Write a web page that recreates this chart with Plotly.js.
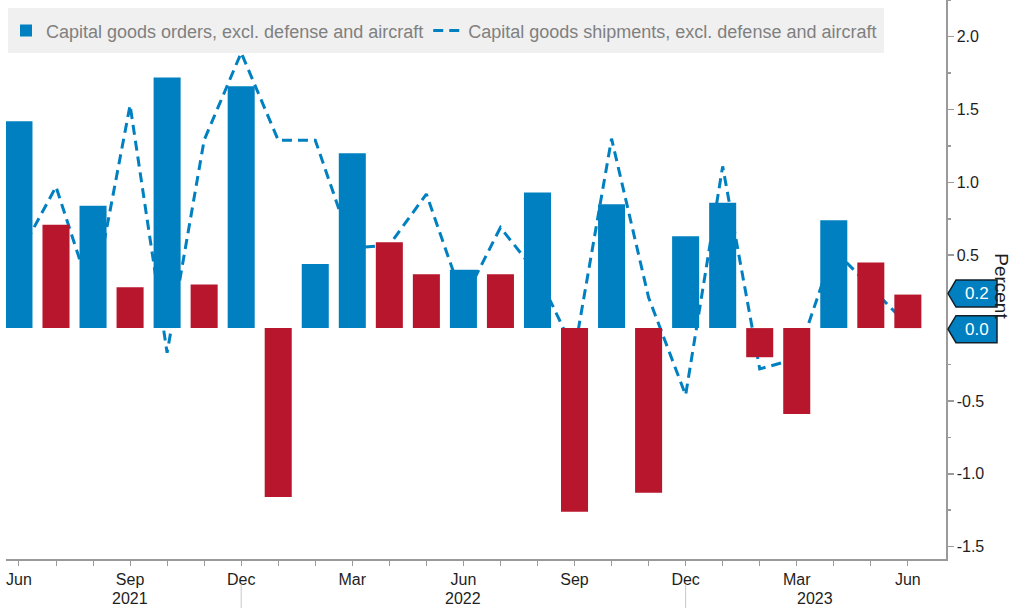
<!DOCTYPE html>
<html>
<head>
<meta charset="utf-8">
<script src="https://cdn.plot.ly/plotly-3.0.1.min.js"></script>
<style>
  html, body { margin: 0; padding: 0; background: #ffffff; }
  #chart { width: 1014px; height: 608px; }
</style>
</head>
<body>
<div id="chart"></div>
<script>
// ---- Data ----
const months = ['Jun','Jul','Aug','Sep','Oct','Nov','Dec','Jan','Feb','Mar','Apr','May',
                'Jun','Jul','Aug','Sep','Oct','Nov','Dec','Jan','Feb','Mar','Apr','May','Jun'];
const monthTickLabels = ['Jun','','','Sep','','','Dec','','','Mar','','',
                         'Jun','','','Sep','','','Dec','','','Mar','','','Jun'];
const ordersName = 'Capital goods orders, excl. defense and aircraft';
const shipmentsName = 'Capital goods shipments, excl. defense and aircraft';
const orders = [1.42, 0.71, 0.84, 0.28, 1.72, 0.30, 1.66, -1.16, 0.44, 1.20, 0.59, 0.37,
                0.40, 0.37, 0.93, -1.26, 0.85, -1.13, 0.63, 0.86, -0.20, -0.59, 0.74, 0.45, 0.23];
const shipments = [0.50, 0.97, 0.19, 1.53, -0.17, 1.29, 1.89, 1.29, 1.29, 0.55, 0.57, 0.92,
                   0.19, 0.69, 0.37, -0.16, 1.30, 0.21, -0.46, 1.11, -0.28, -0.21, 0.54, 0.28, 0.02];
const yearLabels = ['2021', '2022', '2023'];
const yearLabelPos = [3, 12, 21.5];
const yTickVals = [-1.5, -1.0, -0.5, 0.0, 0.5, 1.0, 1.5, 2.0];
// the 0.0 tick label sits under the last-value tag in the reference
const yTickLabels = ['-1.5', '-1.0', '-0.5', '', '0.5', '1.0', '1.5', '2.0'];

// ---- Styles ----
const BLUE = '#0080c0';
const RED = '#b8162d';
const FONT = 'Liberation Sans, Arial, sans-serif';
const AXIS_GREY = '#9a9a9a';
const TEXT_DARK = '#1e1e1e';

const xIdx = months.map((m, i) => i);
// Bar colour: blue when orders rose vs. the prior month, red when they fell
const barColors = orders.map((v, i) => (i === 0 || v >= orders[i - 1]) ? BLUE : RED);
const yRange = [-1.585, 2.252];

const traces = [
  {
    type: 'scatter', mode: 'lines', name: shipmentsName,
    x: xIdx, y: shipments, xaxis: 'x', yaxis: 'y',
    line: { color: BLUE, width: 3, dash: '10px,6px' },
    legendrank: 2, hoverinfo: 'skip'
  },
  {
    type: 'bar', name: ordersName,
    x: xIdx, y: orders, xaxis: 'x', yaxis: 'y2',
    width: 0.73,
    marker: { color: barColors, line: { width: 0 } },
    legendrank: 1, hoverinfo: 'skip'
  }
];

const shapes = [];
// Legend background panel
shapes.push({
  type: 'rect', xref: 'paper', yref: 'paper', layer: 'above',
  x0: 0.0021, x1: 0.934, y0: 0.9052, y1: 0.9857,
  fillcolor: '#f0f0f0', line: { width: 0 }
});
// Year separators (at December ticks)
months.forEach((m, i) => {
  if (m === 'Dec') {
    shapes.push({
      type: 'line', xref: 'x', yref: 'paper', x0: i, x1: i, y0: -0.0465, y1: -0.09,
      line: { color: '#c8c8c8', width: 1 }
    });
  }
});

// Last-value tags on the right axis
const tagInfo = [
  { value: orders[orders.length - 1], shift: 1 },
  { value: shipments[shipments.length - 1], shift: -4 }
];
const annotations = [];
tagInfo.forEach(t => {
  const s = t.shift;
  shapes.push({
    type: 'path', xref: 'paper', yref: 'y', xsizemode: 'pixel', ysizemode: 'pixel',
    xanchor: 1, yanchor: t.value, layer: 'above',
    path: `M 2 ${s} L 10 ${s + 13.5} L 51 ${s + 13.5} L 51 ${s - 13.5} L 10 ${s - 13.5} Z`,
    fillcolor: BLUE, line: { color: '#13202c', width: 1.5 }
  });
  annotations.push({
    xref: 'paper', yref: 'y', x: 1, y: t.value, xshift: 31, yshift: s,
    xanchor: 'center', yanchor: 'middle', showarrow: false,
    text: t.value.toFixed(1), font: { family: FONT, size: 17, color: '#ffffff' }
  });
});

yearLabels.forEach((yl, i) => {
  annotations.push({
    xref: 'x', yref: 'paper', x: yearLabelPos[i], y: -0.0698,
    xanchor: 'center', yanchor: 'middle', showarrow: false,
    text: yl, font: { family: FONT, size: 16, color: TEXT_DARK }
  });
});

annotations.push({
  xref: 'paper', yref: 'paper', x: 1, y: 0.488, xshift: 56,
  xanchor: 'center', yanchor: 'middle', showarrow: false, textangle: 90,
  text: 'Percent', font: { family: FONT, size: 19, color: TEXT_DARK }
});

const layout = {
  width: 1014, height: 608,
  margin: { l: 6, r: 68, t: 0, b: 49, pad: 0 },
  paper_bgcolor: '#ffffff', plot_bgcolor: '#ffffff',
  showlegend: true,
  legend: {
    orientation: 'h', x: 0, y: 0.978, xanchor: 'left', yanchor: 'top',
    bgcolor: 'rgba(0,0,0,0)', borderwidth: 0,
    font: { family: FONT, size: 18, color: '#808080' },
    traceorder: 'normal'
  },
  xaxis: {
    range: [-0.35, 25.03],
    tickmode: 'array', tickvals: xIdx, ticktext: monthTickLabels,
    ticks: 'outside', ticklen: 5, tickcolor: AXIS_GREY, tickwidth: 1,
    showline: true, linecolor: AXIS_GREY, linewidth: 1.5,
    showgrid: false, zeroline: false, fixedrange: true,
    tickfont: { family: FONT, size: 16, color: TEXT_DARK }
  },
  yaxis: {
    side: 'right', range: yRange,
    tickmode: 'array', tickvals: yTickVals, ticktext: yTickLabels,
    ticks: 'outside', ticklen: 6, tickcolor: AXIS_GREY, tickwidth: 1.5,
    minor: { dtick: 0.25, ticks: 'outside', ticklen: 3, tickcolor: AXIS_GREY, showgrid: false },
    showline: true, linecolor: AXIS_GREY, linewidth: 1.5,
    showgrid: false, zeroline: false, fixedrange: true,
    tickfont: { family: FONT, size: 16, color: TEXT_DARK }
  },
  yaxis2: {
    overlaying: 'y', side: 'right', range: yRange, visible: false,
    showgrid: false, zeroline: false, fixedrange: true
  },
  bargap: 0.27,
  shapes: shapes,
  annotations: annotations
};

Plotly.newPlot('chart', traces, layout, { staticPlot: true, displayModeBar: false });
</script>
</body>
</html>
